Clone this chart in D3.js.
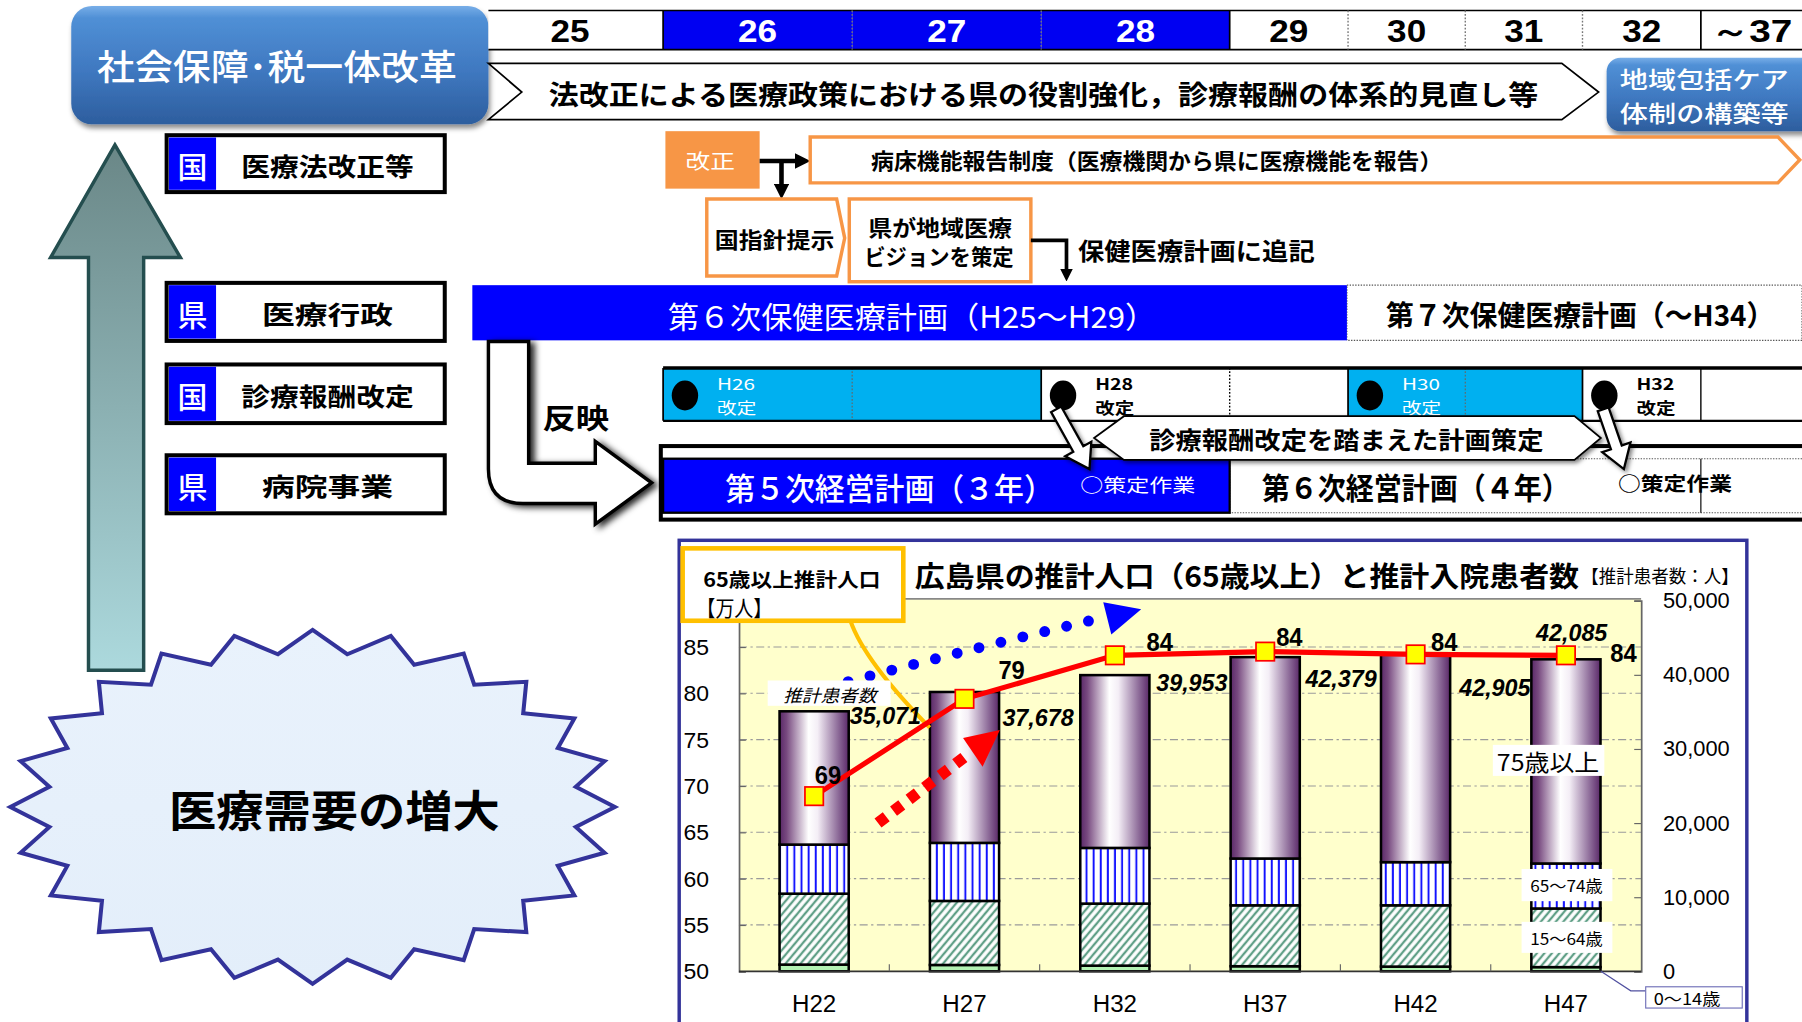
<!DOCTYPE html>
<html><head><meta charset="utf-8">
<script src="https://cdn.jsdelivr.net/npm/d3@7"></script>
<style>html,body{margin:0;padding:0;background:#fff;overflow:hidden}svg{display:block}</style>
</head><body>
<svg id="c" width="1802" height="1022" viewBox="0 0 1568 889"></svg>
<script>
// ---------------- data ----------------
const fiscalYears = ["25","26","27","28","29","30","31","32","～37"];
const highlightYears = ["26","27","28"];
const rowTags = ["国","県","国","県"];
const rowNames = ["医療法改正等","医療行政","診療報酬改定","病院事業"];
const revisionYears = ["H26","H28","H30","H32"];
const categories = ["H22","H27","H32","H37","H42","H47"];
const age0to14  = [900, 850, 760, 680, 630, 560];
const age15to64 = [9570, 8640, 8370, 8220, 8270, 7910];
const age65to74 = [6620, 7830, 7510, 6310, 5820, 6070];
const age75plus = [17981, 20358, 23313, 27169, 28185, 27545];
const totalPatients = [35071, 37678, 39953, 42379, 42905, 42085];
const pop65 = [68.9, 79.4, 84.1, 84.5, 84.2, 84.1];
const pop65Labels = ["69","79","84","84","84","84"];
const leftTicks = [50,55,60,65,70,75,80,85];
const rightTicks = [0,10000,20000,30000,40000,50000];
const segmentLabels = ["0～14歳","15～64歳","65～74歳","75歳以上"];

// ---------------- setup ----------------
const svg = d3.select("#c");
const JP = "'Noto Sans CJK JP','Noto Sans',sans-serif";
const NUM = "'Liberation Sans','Arial',sans-serif";
const defs = svg.append("defs");

function T(p, x, y, s, o = {}) {
  const t = p.append("text").attr("x", x).attr("y", y).text(s)
    .attr("font-family", o.family || JP)
    .attr("font-size", o.size || 20)
    .attr("font-weight", o.weight || 400)
    .attr("fill", o.fill || "#000")
    .attr("text-anchor", o.anchor || "middle")
    .attr("dominant-baseline", "central");
  if (o.italic) t.attr("font-style", "italic");
  if (o.w) t.attr("textLength", o.w).attr("lengthAdjust", "spacingAndGlyphs");
  return t;
}
function grad(id, vertical, stops) {
  const g = defs.append("linearGradient").attr("id", id)
    .attr("x1", 0).attr("y1", 0).attr("x2", vertical ? 0 : 1).attr("y2", vertical ? 1 : 0);
  stops.forEach(s => g.append("stop").attr("offset", s[0]).attr("stop-color", s[1]));
}
function shadow(id, dx, dy, sd, op) {
  const f = defs.append("filter").attr("id", id).attr("x", "-30%").attr("y", "-30%").attr("width", "160%").attr("height", "170%");
  f.append("feDropShadow").attr("dx", dx).attr("dy", dy).attr("stdDeviation", sd).attr("flood-color", "#000").attr("flood-opacity", op);
}
shadow("sh", 1.5, 3.5, 2.5, 0.45);
shadow("sh2", 4, 2, 3, 0.85);
shadow("sh3", 2, 2, 2, 0.5);
grad("gBox", true, [[0, "#78aee8"], [0.1, "#5090d6"], [0.55, "#3f78c0"], [1, "#2d5e9e"]]);
grad("gArrow", true, [[0, "#6a8787"], [1, "#acd9dd"]]);
grad("gCyl", false, [[0, "#5a2868"], [0.1, "#77497f"], [0.42, "#ffffff"], [0.55, "#f4eef6"], [0.85, "#8c6a98"], [1, "#5a2868"]]);
grad("gBurst", true, [[0, "#e9f2fc"], [1, "#e3eefa"]]);

const pStripe = defs.append("pattern").attr("id", "pStripe").attr("patternUnits", "userSpaceOnUse").attr("width", 6.2).attr("height", 10);
pStripe.append("rect").attr("width", 6.2).attr("height", 10).attr("fill", "#fff");
pStripe.append("line").attr("x1", 3).attr("x2", 3).attr("y1", 0).attr("y2", 10).attr("stroke", "#1010ff").attr("stroke-width", 1.7);
const pHatch = defs.append("pattern").attr("id", "pHatch").attr("patternUnits", "userSpaceOnUse").attr("width", 5).attr("height", 10).attr("patternTransform", "rotate(40)");
pHatch.append("rect").attr("width", 5).attr("height", 10).attr("fill", "#fff");
pHatch.append("line").attr("x1", 2.5).attr("x2", 2.5).attr("y1", 0).attr("y2", 10).attr("stroke", "#5f9f86").attr("stroke-width", 2);
const mk = defs.append("marker").attr("id", "ah").attr("viewBox", "0 0 10 10").attr("refX", 1).attr("refY", 5)
  .attr("markerWidth", 3.4).attr("markerHeight", 3.4).attr("orient", "auto").attr("markerUnits", "strokeWidth");
mk.append("path").attr("d", "M0,0 L10,5 L0,10 Z").attr("fill", "#000");

// ---------------- left side ----------------
const left = svg.append("g");
left.append("polygon")
  .attr("points", [[100,126],[157,224],[125,224],[125,583],[77,583],[77,224],[44,224]].join(" "))
  .attr("fill", "url(#gArrow)").attr("stroke", "#244e4f").attr("stroke-width", 3).attr("stroke-linejoin", "miter");

const burst = d3.range(48).map(i => {
  const a = -Math.PI / 2 + i * Math.PI / 24, out = i % 2 === 0;
  return [272 + (out ? 263 : 231) * Math.cos(a), 702 + (out ? 154 : 134) * Math.sin(a)];
});
left.append("polygon").attr("points", burst.join(" "))
  .attr("fill", "url(#gBurst)").attr("stroke", "#33339a").attr("stroke-width", 3.5).attr("stroke-linejoin", "miter");
T(left, 291, 703, "医療需要の増大", {size: 38, weight: 700, w: 288});

// top-left box
left.append("rect").attr("x", 62).attr("y", 5).attr("width", 363).attr("height", 103).attr("rx", 18)
  .attr("fill", "url(#gBox)").attr("filter", "url(#sh)");
T(left, 241, 56, "社会保障･税一体改革", {size: 31, weight: 500, fill: "#fff", w: 313});

// row labels
const rowY = [[117.5, 167], [246, 296.5], [317, 368], [396, 446.5]];
const rowW = [150, 114, 150, 114];
rowTags.forEach((tag, i) => {
  const [y0, y1] = rowY[i];
  left.append("rect").attr("x", 145).attr("y", y0).attr("width", 242).attr("height", y1 - y0)
    .attr("fill", "#fff").attr("stroke", "#000").attr("stroke-width", 3.5);
  left.append("rect").attr("x", 147).attr("y", y0 + 2).attr("width", 41).attr("height", y1 - y0 - 4).attr("fill", "#0000ff");
  T(left, 167.5, (y0 + y1) / 2 + 1, tag, {size: 26, weight: 500, fill: "#fff"});
  T(left, 285, (y0 + y1) / 2 + 1, rowNames[i], {size: 22, weight: 700, w: rowW[i]});
});

// ---------------- timeline header ----------------
const tlEdges = [425, 577, 741.5, 906, 1070, 1173, 1275, 1377, 1480, 1568];
const tl = svg.append("g");
fiscalYears.forEach((yr, i) => {
  const x0 = tlEdges[i], x1 = tlEdges[i + 1], hi = highlightYears.includes(yr);
  tl.append("rect").attr("x", x0).attr("y", 9).attr("width", x1 - x0).attr("height", 34).attr("fill", hi ? "#0000f2" : "#fff");
  T(tl, (x0 + x1) / 2 + (i === 0 ? -5 : 0), 27, yr, {family: NUM, size: 28, weight: 700, fill: hi ? "#fff" : "#000", w: yr.length > 2 ? 71 : 34});
});
tl.append("line").attr("x1", 425).attr("x2", 1568).attr("y1", 9).attr("y2", 9).attr("stroke", "#000").attr("stroke-width", 1.5);
tl.append("line").attr("x1", 425).attr("x2", 1568).attr("y1", 43).attr("y2", 43).attr("stroke", "#000").attr("stroke-width", 1.5);
tlEdges.slice(1, 9).forEach((x, i) => {
  const solid = [0, 3, 7].includes(i);
  tl.append("line").attr("x1", x).attr("x2", x).attr("y1", 9).attr("y2", 43)
    .attr("stroke", solid ? "#000" : "#777").attr("stroke-width", solid ? 1.5 : 1.2)
    .attr("stroke-dasharray", solid ? null : "1.5 1.5");
});
tl.append("polygon").attr("points", [[425,55],[1359,55],[1391,80],[1359,104],[425,104],[454,80]].join(" "))
  .attr("fill", "#fff").attr("stroke", "#000").attr("stroke-width", 1.5);
T(tl, 908, 81, "法改正による医療政策における県の役割強化，診療報酬の体系的見直し等", {size: 24, weight: 700, w: 861});
tl.append("rect").attr("x", 1398).attr("y", 50).attr("width", 210).attr("height", 64).attr("rx", 12)
  .attr("fill", "url(#gBox)").attr("filter", "url(#sh)");
T(tl, 1483, 67.5, "地域包括ケア", {size: 20, weight: 500, fill: "#fff", w: 147});
T(tl, 1483, 97.5, "体制の構築等", {size: 20, weight: 500, fill: "#fff", w: 147});

// ---------------- middle flow ----------------
const mid = svg.append("g");
const OR = "#f79646";
mid.append("rect").attr("x", 579).attr("y", 114).attr("width", 82).attr("height", 50).attr("fill", OR);
T(mid, 618, 139, "改正", {size: 18, fill: "#fff", w: 43});
mid.append("line").attr("x1", 661).attr("x2", 693).attr("y1", 140).attr("y2", 140).attr("stroke", "#000").attr("stroke-width", 4).attr("marker-end", "url(#ah)");
mid.append("line").attr("x1", 680).attr("x2", 680).attr("y1", 140).attr("y2", 161).attr("stroke", "#000").attr("stroke-width", 4).attr("marker-end", "url(#ah)");
mid.append("polygon").attr("points", [[705,119],[1547,119],[1566,139],[1547,159],[705,159]].join(" "))
  .attr("fill", "#fff").attr("stroke", OR).attr("stroke-width", 3);
T(mid, 758, 139, "病床機能報告制度（医療機関から県に医療機能を報告）", {size: 19, weight: 700, anchor: "start", w: 497});
mid.append("polygon").attr("points", [[615,173],[728,173],[735,207],[728,240],[615,240]].join(" "))
  .attr("fill", "#fff").attr("stroke", OR).attr("stroke-width", 3);
T(mid, 674, 207, "国指針提示", {size: 19, weight: 700, w: 104});
mid.append("rect").attr("x", 739).attr("y", 173).attr("width", 158).attr("height", 72)
  .attr("fill", "#fff").attr("stroke", OR).attr("stroke-width", 3);
T(mid, 818, 197, "県が地域医療", {size: 19, weight: 700, w: 125});
T(mid, 817, 222, "ビジョンを策定", {size: 19, weight: 700, w: 130});
mid.append("path").attr("d", "M897,209 H928 V235").attr("fill", "none").attr("stroke", "#000").attr("stroke-width", 3.2).attr("marker-end", "url(#ah)");
T(mid, 938, 217, "保健医療計画に追記", {size: 21, weight: 700, anchor: "start", w: 206});

// health plans
mid.append("rect").attr("x", 1172).attr("y", 248).attr("width", 396).attr("height", 48)
  .attr("fill", "#fff").attr("stroke", "#555").attr("stroke-width", 1).attr("stroke-dasharray", "1.2 1.2");
mid.append("rect").attr("x", 411).attr("y", 248).attr("width", 761).attr("height", 48).attr("fill", "#0000ff");
T(mid, 581, 274, "第６次保健医療計画（H25～H29）", {size: 26, fill: "#fff", anchor: "start", w: 425});
T(mid, 1206, 273, "第７次保健医療計画（～H34）", {size: 25, weight: 700, anchor: "start", w: 338});

// 反映 arrow
mid.append("path").attr("d", "M425,297 L460,297 L460,403 L518,403 L518,384 L567,420 L518,456 L518,438 L455,438 Q425,438 425,408 Z")
  .attr("fill", "#fff").attr("stroke", "#000").attr("stroke-width", 3).attr("filter", "url(#sh2)");
T(mid, 501, 362, "反映", {size: 25, weight: 700, w: 58});

// 診療報酬 revision row
const rev = svg.append("g");
revisionYears.forEach((r, i) => {
  const x0 = tlEdges[1 + 2 * i], xm = tlEdges[2 + 2 * i], x1 = tlEdges[3 + 2 * i];
  const cyan = i % 2 === 0;
  rev.append("rect").attr("x", x0).attr("y", 320).attr("width", x1 - x0).attr("height", 46).attr("fill", cyan ? "#00b0f0" : "#fff");
  rev.append("line").attr("x1", xm).attr("x2", xm).attr("y1", 320).attr("y2", 366)
    .attr("stroke", cyan ? "#666" : "#000").attr("stroke-width", cyan ? 1 : 1.2).attr("stroke-dasharray", cyan || i === 1 ? "1.5 1.5" : null);
  rev.append("line").attr("x1", x0).attr("x2", x0).attr("y1", 320).attr("y2", 366).attr("stroke", "#000").attr("stroke-width", 1.5);
  rev.append("ellipse").attr("cx", x0 + 19).attr("cy", 344).attr("rx", 11.5).attr("ry", 13).attr("fill", "#000");
  const col = cyan ? "#fff" : "#000", wt = cyan ? 400 : 700;
  T(rev, x0 + 47, 333.5, r, {size: 13.5, fill: col, weight: wt, anchor: "start", w: 33});
  T(rev, x0 + 47, 354, "改定", {size: 13.5, fill: col, weight: wt, anchor: "start", w: 34});
});
rev.append("line").attr("x1", 577).attr("x2", 1568).attr("y1", 320).attr("y2", 320).attr("stroke", "#000").attr("stroke-width", 3);
rev.append("line").attr("x1", 577).attr("x2", 1568).attr("y1", 366).attr("y2", 366).attr("stroke", "#000").attr("stroke-width", 2);

// 経営計画 row
const mgmt = svg.append("g");
mgmt.append("rect").attr("x", 575).attr("y", 388).attr("width", 1000).attr("height", 64).attr("fill", "#fff").attr("stroke", "#000").attr("stroke-width", 3.5);
mgmt.append("rect").attr("x", 1070).attr("y", 399).attr("width", 500).attr("height", 47).attr("fill", "#fff")
  .attr("stroke", "#555").attr("stroke-width", 1).attr("stroke-dasharray", "1.2 1.2");
mgmt.append("line").attr("x1", 1480).attr("x2", 1480).attr("y1", 399).attr("y2", 446).attr("stroke", "#000").attr("stroke-width", 1);
mgmt.append("rect").attr("x", 577).attr("y", 399).attr("width", 493).attr("height", 47).attr("fill", "#0000ff").attr("stroke", "#000").attr("stroke-width", 2);
T(mgmt, 631, 423, "第５次経営計画（３年）", {size: 27, weight: 500, fill: "#fff", anchor: "start", w: 286});
T(mgmt, 940, 421, "○策定作業", {size: 16, fill: "#fff", anchor: "start", w: 100});
T(mgmt, 1098, 423, "第６次経営計画（４年）", {size: 26, weight: 700, anchor: "start", w: 268});
T(mgmt, 1408, 420, "○策定作業", {size: 17, weight: 700, anchor: "start", w: 99});

// callout hexagon + white arrows
mgmt.append("polygon").attr("points", [[952,381],[978,362],[1370,362],[1393,381],[1370,400],[978,400]].join(" "))
  .attr("fill", "#fff").attr("stroke", "#000").attr("stroke-width", 1.5).attr("filter", "url(#sh3)");
T(mgmt, 1000, 381, "診療報酬改定を踏まえた計画策定", {size: 21, weight: 700, anchor: "start", w: 343});
function arrowShape(x1, y1, x2, y2, sw, hw, hl) {
  const dx = x2 - x1, dy = y2 - y1, L = Math.hypot(dx, dy), ux = dx / L, uy = dy / L, px = -uy, py = ux;
  const bx = x2 - ux * hl, by = y2 - uy * hl;
  return [[x1 + px * sw / 2, y1 + py * sw / 2], [bx + px * sw / 2, by + py * sw / 2], [bx + px * hw / 2, by + py * hw / 2],
    [x2, y2], [bx - px * hw / 2, by - py * hw / 2], [bx - px * sw / 2, by - py * sw / 2], [x1 - px * sw / 2, y1 - py * sw / 2]];
}
[[919, 356, 948, 408], [1395, 356, 1413, 408]].forEach(a => {
  mgmt.append("polygon").attr("points", arrowShape(a[0], a[1], a[2], a[3], 10, 26, 20).join(" "))
    .attr("fill", "#fff").attr("stroke", "#000").attr("stroke-width", 2).attr("filter", "url(#sh3)");
});

// ---------------- chart ----------------
const ch = svg.append("g");
ch.append("rect").attr("x", 591).attr("y", 470).attr("width", 929).attr("height", 440)
  .attr("fill", "#fff").attr("stroke", "#33339a").attr("stroke-width", 3);
const PL = 643, PR = 1428, PT = 521, PB = 845;
const x = d3.scaleBand().domain(categories).range([PL, PR]).paddingInner(0.54).paddingOuter(0.27);
const yL = d3.scaleLinear().domain([50, 90]).range([PB, 522.5]);
const yR = d3.scaleLinear().domain([0, 50000]).range([PB, 522.5]);
ch.append("rect").attr("x", PL).attr("y", PT).attr("width", PR - PL).attr("height", PB - PT).attr("fill", "#ffffcc");
ch.append("line").attr("x1", PL).attr("x2", PR).attr("y1", PT).attr("y2", PT).attr("stroke", "#888").attr("stroke-width", 1.5);
ch.append("g").selectAll("line").data(leftTicks.slice(1)).join("line")
  .attr("x1", PL).attr("x2", PR).attr("y1", d => yL(d)).attr("y2", d => yL(d))
  .attr("stroke", "#9a9a9a").attr("stroke-width", 1).attr("stroke-dasharray", "7 3 2 3");

const axL = ch.append("g").attr("transform", `translate(${PL},0)`)
  .call(d3.axisLeft(yL).tickValues(leftTicks).tickSize(-6).tickPadding(26).tickFormat(d3.format("d")));
const axR = ch.append("g").attr("transform", `translate(${PR},0)`)
  .call(d3.axisRight(yR).tickValues(rightTicks).tickSize(-6).tickPadding(19).tickFormat(d3.format(",")));
[axL, axR].forEach(a => {
  a.select(".domain").attr("stroke", "#666").attr("stroke-width", 1.5);
  a.selectAll(".tick line").attr("stroke", "#666");
  a.selectAll(".tick text").attr("font-family", NUM).attr("font-size", 20).attr("fill", "#000");
});
axR.selectAll(".tick text").attr("font-size", 19);

const table = categories.map((c, i) => ({cat: c, a0: age0to14[i], a15: age15to64[i], a65: age65to74[i], a75: age75plus[i]}));
const keys = ["a0", "a15", "a65", "a75"];
const fills = {a0: "#b3f2b3", a15: "url(#pHatch)", a65: "url(#pStripe)", a75: "url(#gCyl)"};
const stack = d3.stack().keys(keys)(table);
const bw = x.bandwidth();
stack.forEach(layer => {
  ch.append("g").selectAll("rect").data(layer).join("rect")
    .attr("x", d => x(d.data.cat)).attr("width", bw)
    .attr("y", d => yR(d[1])).attr("height", d => yR(d[0]) - yR(d[1]))
    .attr("fill", fills[layer.key])
    .attr("stroke", "#000").attr("stroke-width", 2.2);
});

// x axis
ch.append("line").attr("x1", PL).attr("x2", PR).attr("y1", PB).attr("y2", PB).attr("stroke", "#333").attr("stroke-width", 1.5);
const step = x.step();
ch.append("g").selectAll("line").data(categories.slice(1)).join("line")
  .attr("x1", d => x(d) - (step - bw) / 2).attr("x2", d => x(d) - (step - bw) / 2)
  .attr("y1", PB).attr("y2", PB - 6).attr("stroke", "#666");
ch.append("g").selectAll("text").data(categories).join("text")
  .attr("x", d => x(d) + bw / 2).attr("y", 873).text(d => d)
  .attr("font-family", NUM).attr("font-size", 21).attr("text-anchor", "middle").attr("dominant-baseline", "central");

// blue dotted trend arrow
ch.append("path").attr("d", "M738,593 Q850,563 961,537").attr("fill", "none").attr("stroke", "#0000ff")
  .attr("stroke-width", 9.5).attr("stroke-linecap", "round").attr("stroke-dasharray", "0 19.6");
ch.append("polygon").attr("points", [[960,524],[993,530],[967,552]].join(" ")).attr("fill", "#0000ff");
// red dashed trend arrow
ch.append("line").attr("x1", 764).attr("y1", 716).attr("x2", 840).attr("y2", 658).attr("stroke", "#ff0000")
  .attr("stroke-width", 10).attr("stroke-dasharray", "9 8");
ch.append("polygon").attr("points", [[838,642],[870,635],[855,667]].join(" ")).attr("fill", "#ff0000");

// callout box
ch.append("path").attr("d", "M740,540 Q752,575 809,633").attr("fill", "none").attr("stroke", "#ffc000").attr("stroke-width", 3.5);
ch.append("rect").attr("x", 594).attr("y", 477).attr("width", 192).attr("height", 63).attr("fill", "#fff").attr("stroke", "#ffc000").attr("stroke-width", 4);
T(ch, 612, 503, "65歳以上推計人口", {size: 17, weight: 700, anchor: "start", w: 154});
T(ch, 606, 528, "【万人】", {size: 19, anchor: "start", w: 66});

// title
T(ch, 796, 500, "広島県の推計人口（65歳以上）と推計入院患者数", {size: 25, weight: 700, anchor: "start", w: 578});
T(ch, 1376, 500, "【推計患者数：人】", {size: 16, anchor: "start", w: 137});

// pop line
const line = d3.line().x((d, i) => x(categories[i]) + bw / 2).y(d => yL(d));
ch.append("path").attr("d", line(pop65)).attr("fill", "none").attr("stroke", "#ff0000").attr("stroke-width", 4.5);
ch.append("g").selectAll("rect").data(pop65).join("rect")
  .attr("x", (d, i) => x(categories[i]) + bw / 2 - 8).attr("y", d => yL(d) - 8).attr("width", 16).attr("height", 16)
  .attr("fill", "#ffff00").attr("stroke", "#ff0000").attr("stroke-width", 1.5);
const popDX = [12, 41, 39, 21, 25, 50], popDY = [-18, -25, -12, -13, -11, -2];
pop65Labels.forEach((s, i) => {
  T(ch, x(categories[i]) + bw / 2 + popDX[i], yL(pop65[i]) + popDY[i], s, {family: NUM, size: 22, weight: 700, w: 23});
});
const totDX = [62, 64, 67, 66, 69, 5], totDY = [4, 22, 6, 19, 30, -23];
totalPatients.forEach((v, i) => {
  T(ch, x(categories[i]) + bw / 2 + totDX[i], yR(v) + totDY[i], d3.format(",")(v),
    {family: NUM, size: 21, weight: 700, italic: true, w: 62});
});

// segment / series labels
ch.append("rect").attr("x", 668).attr("y", 592).attr("width", 107).attr("height", 22).attr("fill", "#fff");
T(ch, 722, 604, "推計患者数", {size: 15, italic: true, w: 81});
ch.append("rect").attr("x", 1299).attr("y", 648).attr("width", 97).attr("height", 27).attr("fill", "#fff");
T(ch, 1347, 662, segmentLabels[3], {size: 20, w: 89});
ch.append("rect").attr("x", 1324).attr("y", 756).attr("width", 79).attr("height", 28).attr("fill", "#fff");
T(ch, 1363, 770, segmentLabels[2], {size: 14, w: 63});
ch.append("rect").attr("x", 1324).attr("y", 802).attr("width", 79).attr("height", 27).attr("fill", "#fff");
T(ch, 1363, 816, segmentLabels[1], {size: 14, w: 63});
ch.append("path").attr("d", "M1393,845 L1419,862 L1432,862").attr("fill", "none").attr("stroke", "#5050a0").attr("stroke-width", 1);
ch.append("rect").attr("x", 1432).attr("y", 858.5).attr("width", 84).attr("height", 18.5).attr("fill", "#fff").attr("stroke", "#7070b8").attr("stroke-width", 1);
T(ch, 1468, 868, segmentLabels[0], {size: 14, w: 58});
</script>
</body></html>
